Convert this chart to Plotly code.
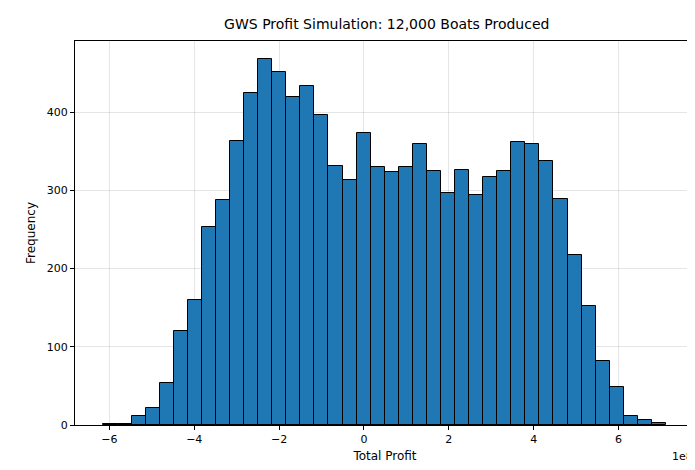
import numpy as np
import plotly.graph_objects as go

# histogram of simulated total profit (40 bins)
bin_start = -6.14e8
bin_width = 3.314e7
counts = [1, 1, 12, 22, 54, 120, 160, 253, 288, 363,
          425, 468, 452, 419, 434, 397, 331, 313, 373, 330,
          323, 330, 359, 325, 297, 326, 294, 317, 325, 362,
          359, 337, 289, 217, 152, 82, 49, 12, 6, 3]
tick_vals = [-6e8, -4e8, -2e8, 0, 2e8, 4e8, 6e8]
tick_text = ["−6", "−4", "−2", "0", "2", "4", "6"]

centers = bin_start + bin_width * (np.arange(len(counts)) + 0.5)

fig = go.Figure(go.Bar(
    x=centers, y=counts, width=bin_width,
    marker=dict(color="#1f77b4", line=dict(color="black", width=1)),
))

axis_style = dict(showline=True, linecolor="black", linewidth=1, mirror=True,
                  ticks="outside", ticklen=4, tickcolor="black",
                  showgrid=True, gridcolor="rgba(0,0,0,0.1)", zeroline=False,
                  tickfont=dict(size=11, color="black"))

fig.update_xaxes(range=[-6.81e8, 7.80e8], tickvals=tick_vals, ticktext=tick_text,
                 title=dict(text="Total Profit", font=dict(size=12, color="black"), standoff=6),
                 **axis_style)
fig.update_yaxes(range=[0, 491], dtick=100,
                 title=dict(text="Frequency", font=dict(size=12, color="black"), standoff=8),
                 **axis_style)

fig.add_annotation(text="1e8", xref="paper", yref="paper", x=1, y=-0.06,
                   xanchor="right", yanchor="top", showarrow=False,
                   font=dict(size=11, color="black"))

fig.update_layout(
    width=695, height=470,
    margin=dict(l=67, r=8, t=33, b=53),
    plot_bgcolor="white", paper_bgcolor="white",
    font=dict(family="DejaVu Sans"),
    title=dict(text="GWS Profit Simulation: 12,000 Boats Produced",
               x=0.545, xanchor="center", y=0.965, yanchor="middle",
               font=dict(size=14, color="black")),
    bargap=0, showlegend=False,
)

fig.write_html("out.html")
